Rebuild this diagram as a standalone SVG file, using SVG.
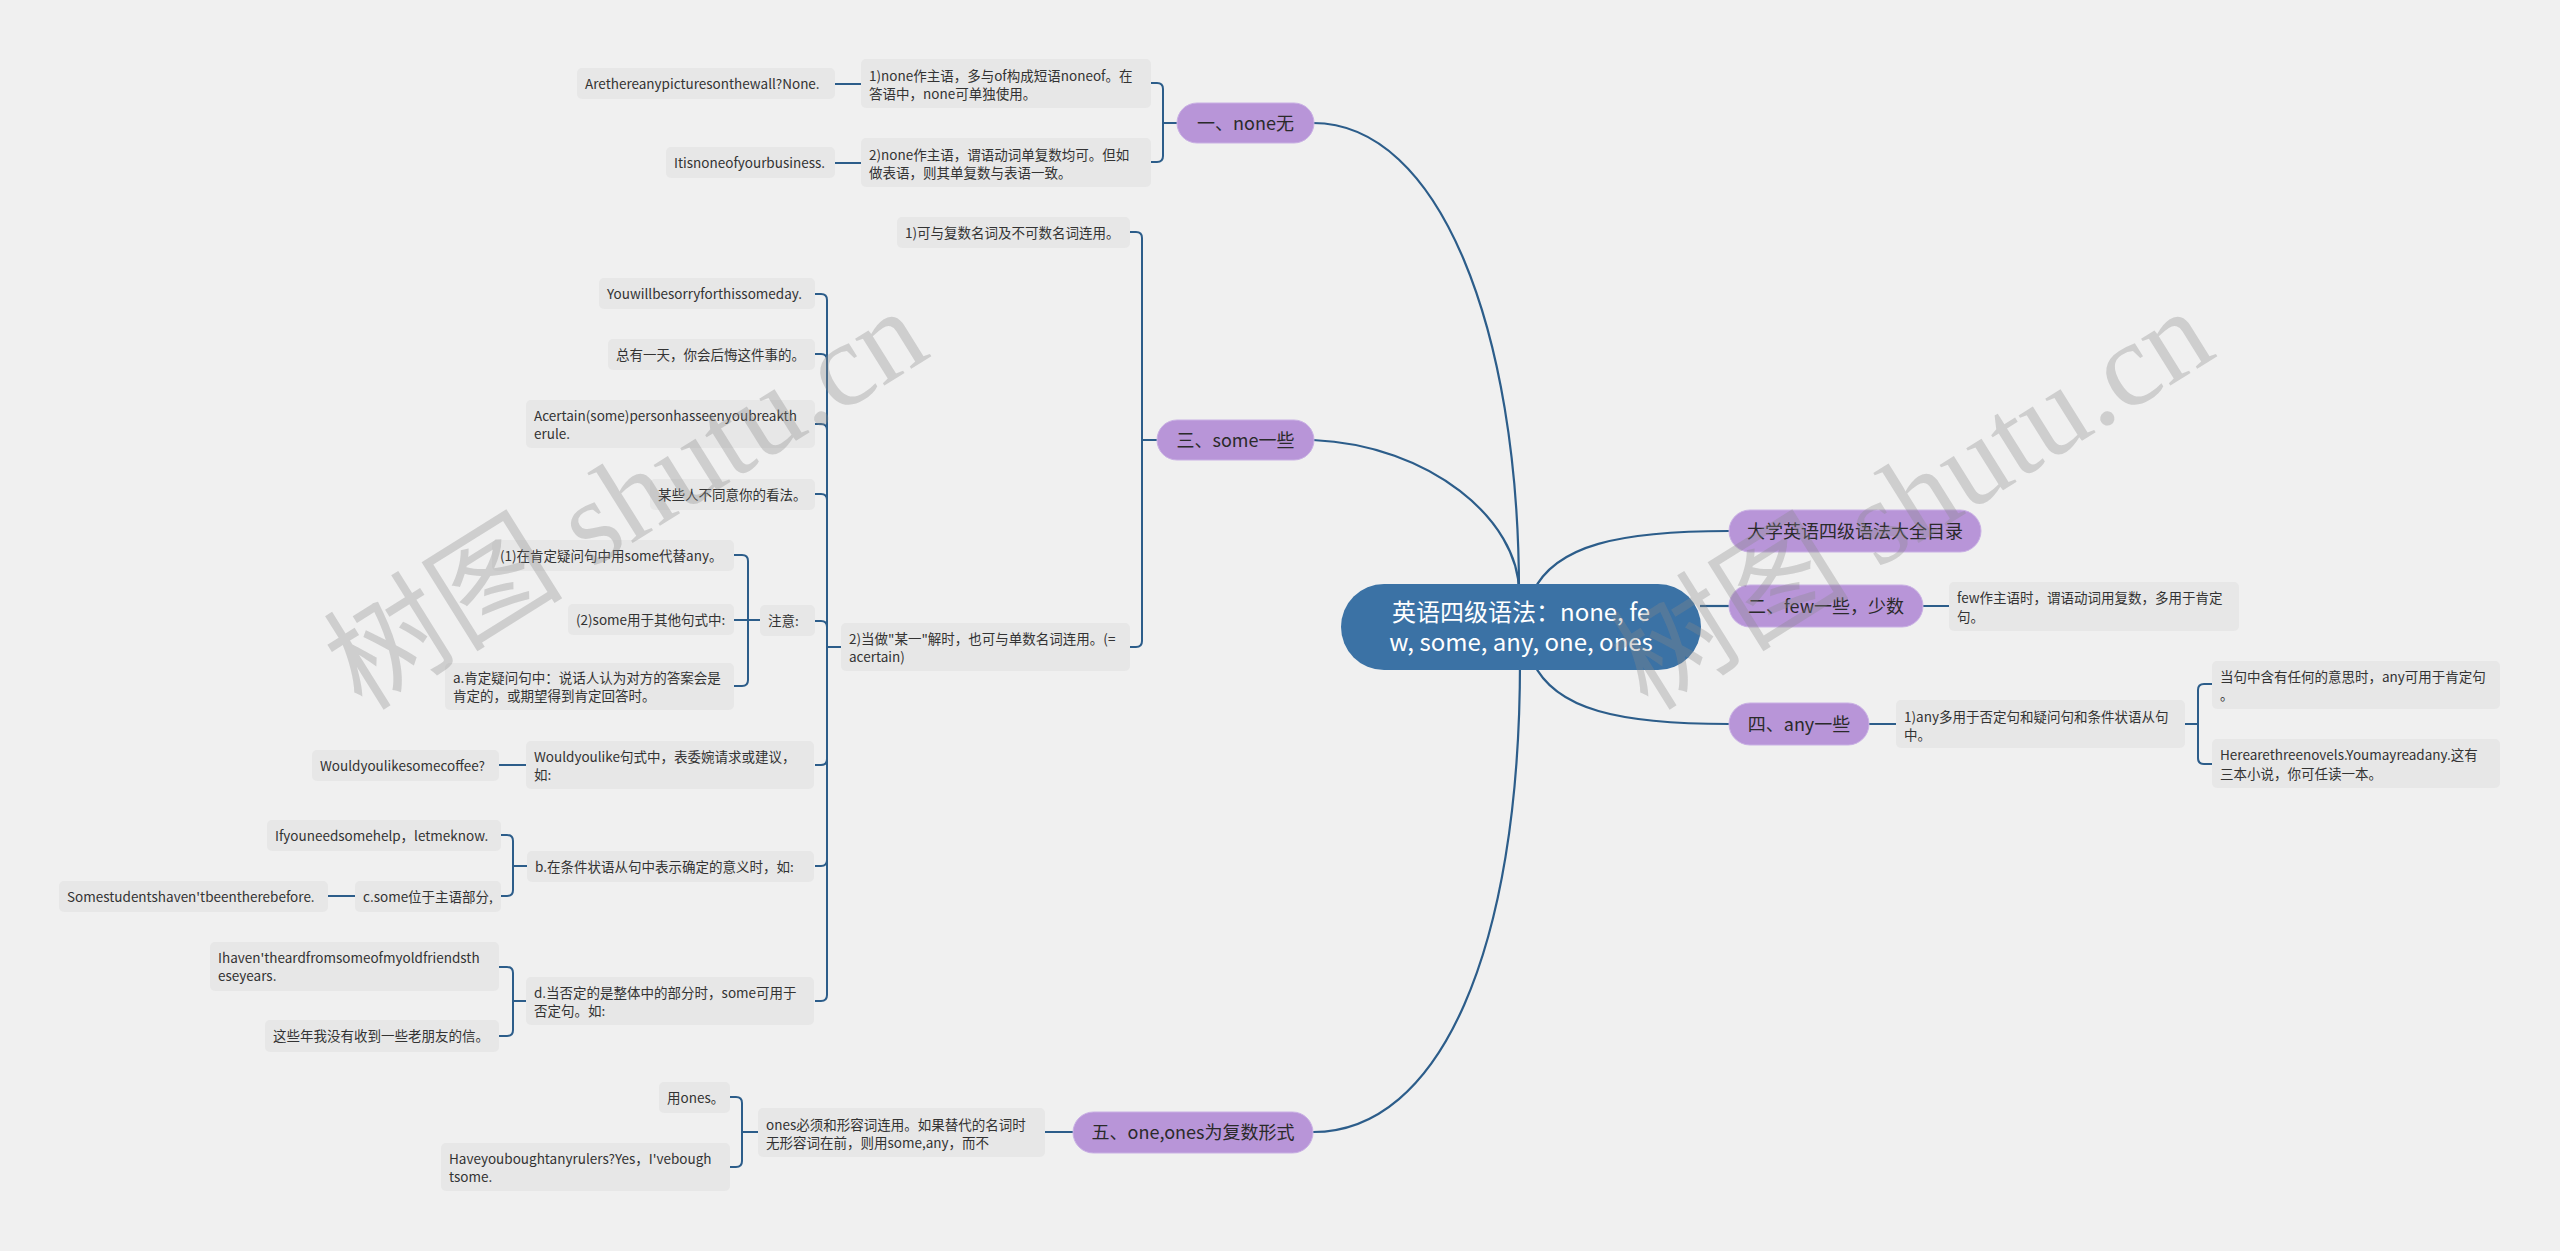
<svg xmlns="http://www.w3.org/2000/svg" width="2560" height="1251" viewBox="0 0 2560 1251">
<style>
text{font-family:"Noto Sans CJK SC","Noto Sans",sans-serif}
.box rect{fill:#e7e7e7}
.box text{font-size:13.5px;fill:#333}
.l1 rect{fill:#b895d8;stroke:#c9b0e4;stroke-width:1}
.l1 text{font-size:18px;fill:#2a2a2a;text-anchor:middle}
.root rect{fill:#3b72a5}
.root text{font-size:24px;fill:#fff;text-anchor:middle}
.c path{fill:none;stroke:#2c5d8a;stroke-width:2}
.c .m{stroke-width:2.2}
.wm{font-family:"Liberation Serif","Noto Sans CJK SC",serif;font-size:120px;fill:#8a8a8a;fill-opacity:0.33}
</style>
<rect width="2560" height="1251" fill="#f0f0f0"/>
<g class="c" id="connectors">
<path class="m" d="M1313 123 C1440 123 1519 330 1519 592"/>
<path class="m" d="M1313 440 C1430 445 1519 520 1519 592"/>
<path class="m" d="M1520 662 C1520 950 1440 1132 1313 1132"/>
<path class="m" d="M1533 592 C1555 545 1620 531 1729 531"/>
<path class="m" d="M1700 606 H1729"/>
<path class="m" d="M1533 662 C1555 710 1620 724 1729 724"/>
<path d="M1177 123 H1163 V89 Q1163 83 1157 83 H1151"/>
<path d="M1177 123 H1163 V156 Q1163 162 1157 162 H1151"/>
<path d="M835 84 H861"/>
<path d="M835 163 H861"/>
<path d="M1157 440 H1142 V238 Q1142 232 1136 232 H1130"/>
<path d="M1157 440 H1142 V641 Q1142 647 1136 647 H1130"/>
<path d="M841 647 H827 V300 Q827 294 821 294 H815"/>
<path d="M841 647 H827 V360 Q827 354 821 354 H815"/>
<path d="M841 647 H827 V430 Q827 424 821 424 H815"/>
<path d="M841 647 H827 V500 Q827 494 821 494 H815"/>
<path d="M841 647 H827 V627 Q827 621 821 621 H815"/>
<path d="M841 647 H827 V759 Q827 765 821 765 H815"/>
<path d="M841 647 H827 V860 Q827 866 821 866 H815"/>
<path d="M841 647 H827 V995 Q827 1001 821 1001 H815"/>
<path d="M760 620 H748 V561 Q748 555 742 555 H734"/>
<path d="M760 620 H734"/>
<path d="M760 620 H748 V680 Q748 686 742 686 H734"/>
<path d="M526 765 H499"/>
<path d="M527 866 H513 V841 Q513 835 507 835 H501"/>
<path d="M527 866 H513 V890 Q513 896 507 896 H501"/>
<path d="M355 896 H328"/>
<path d="M526 1001 H513 V973 Q513 967 507 967 H499"/>
<path d="M526 1001 H513 V1030 Q513 1036 507 1036 H499"/>
<path d="M758 1132 H742 V1103 Q742 1097 736 1097 H730"/>
<path d="M758 1132 H742 V1161 Q742 1167 736 1167 H730"/>
<path d="M1073 1132 H1045"/>
<path d="M1923 606 H1949"/>
<path d="M1869 724 H1896"/>
<path d="M2185 724 H2198 V690 Q2198 684 2204 684 H2212"/>
<path d="M2185 724 H2198 V758 Q2198 764 2204 764 H2212"/>
</g>
<g class="root" id="root"><rect x="1341" y="584" width="360" height="86" rx="43"/><text x="1521" y="621">英语四级语法：none, fe</text><text x="1521" y="651">w, some, any, one, ones</text></g>
<g class="l1" id="n1"><rect x="1177" y="103" width="137" height="40" rx="20"/><text x="1245.5" y="129.5">一、none无</text></g>
<g class="l1" id="n3"><rect x="1157" y="420" width="157" height="40" rx="20"/><text x="1235.5" y="446.5">三、some一些</text></g>
<g class="l1" id="n5"><rect x="1073" y="1112" width="240" height="41" rx="20.5"/><text x="1193" y="1138.5">五、one,ones为复数形式</text></g>
<g class="l1" id="n6"><rect x="1729" y="510" width="252" height="42" rx="21"/><text x="1855" y="537.5">大学英语四级语法大全目录</text></g>
<g class="l1" id="n2"><rect x="1729" y="585" width="194" height="42" rx="21"/><text x="1826" y="612.5">二、few一些，少数</text></g>
<g class="l1" id="n4"><rect x="1729" y="703" width="140" height="42" rx="21"/><text x="1799" y="730.5">四、any一些</text></g>
<g class="box" id="b1"><rect x="577" y="68" width="258" height="31" rx="5"/><text x="585" y="89">Arethereanypicturesonthewall?None.</text></g>
<g class="box" id="b2"><rect x="861" y="59" width="290" height="49" rx="5"/><text x="869" y="81">1)none作主语，多与of构成短语noneof。在</text><text x="869" y="99">答语中，none可单独使用。</text></g>
<g class="box" id="b3"><rect x="861" y="138" width="290" height="49" rx="5"/><text x="869" y="160">2)none作主语，谓语动词单复数均可。但如</text><text x="869" y="178">做表语，则其单复数与表语一致。</text></g>
<g class="box" id="b4"><rect x="666" y="147" width="169" height="31" rx="5"/><text x="674" y="168">Itisnoneofyourbusiness.</text></g>
<g class="box" id="b5"><rect x="897" y="217" width="233" height="31" rx="5"/><text x="905" y="238">1)可与复数名词及不可数名词连用。</text></g>
<g class="box" id="b6"><rect x="841" y="623" width="289" height="48" rx="5"/><text x="849" y="644">2)当做"某一"解时，也可与单数名词连用。(=</text><text x="849" y="662">acertain)</text></g>
<g class="box" id="b7"><rect x="599" y="278" width="216" height="31" rx="5"/><text x="607" y="299">Youwillbesorryforthissomeday.</text></g>
<g class="box" id="b8"><rect x="608" y="339" width="207" height="31" rx="5"/><text x="616" y="360">总有一天，你会后悔这件事的。</text></g>
<g class="box" id="b9"><rect x="526" y="400" width="289" height="48" rx="5"/><text x="534" y="421">Acertain(some)personhasseenyoubreakth</text><text x="534" y="439">erule.</text></g>
<g class="box" id="b10"><rect x="650" y="479" width="165" height="31" rx="5"/><text x="658" y="500">某些人不同意你的看法。</text></g>
<g class="box" id="b11"><rect x="760" y="605" width="55" height="31" rx="5"/><text x="768" y="626">注意:</text></g>
<g class="box" id="b12"><rect x="492" y="540" width="242" height="31" rx="5"/><text x="500" y="561">(1)在肯定疑问句中用some代替any。</text></g>
<g class="box" id="b13"><rect x="568" y="604" width="166" height="31" rx="5"/><text x="576" y="625">(2)some用于其他句式中:</text></g>
<g class="box" id="b14"><rect x="445" y="663" width="289" height="47" rx="5"/><text x="453" y="683">a.肯定疑问句中：说话人认为对方的答案会是</text><text x="453" y="701">肯定的，或期望得到肯定回答时。</text></g>
<g class="box" id="b15"><rect x="526" y="741" width="288" height="48" rx="5"/><text x="534" y="762">Wouldyoulike句式中，表委婉请求或建议，</text><text x="534" y="780">如:</text></g>
<g class="box" id="b16"><rect x="312" y="750" width="187" height="31" rx="5"/><text x="320" y="771">Wouldyoulikesomecoffee?</text></g>
<g class="box" id="b17"><rect x="527" y="851" width="287" height="31" rx="5"/><text x="535" y="872">b.在条件状语从句中表示确定的意义时，如:</text></g>
<g class="box" id="b18"><rect x="267" y="820" width="234" height="31" rx="5"/><text x="275" y="841">Ifyouneedsomehelp，letmeknow.</text></g>
<g class="box" id="b19"><rect x="355" y="881" width="146" height="31" rx="5"/><text x="363" y="902">c.some位于主语部分,</text></g>
<g class="box" id="b20"><rect x="59" y="881" width="269" height="31" rx="5"/><text x="67" y="902">Somestudentshaven'tbeentherebefore.</text></g>
<g class="box" id="b21"><rect x="526" y="977" width="288" height="48" rx="5"/><text x="534" y="998">d.当否定的是整体中的部分时，some可用于</text><text x="534" y="1016">否定句。如:</text></g>
<g class="box" id="b22"><rect x="210" y="942" width="289" height="49" rx="5"/><text x="218" y="963">Ihaven'theardfromsomeofmyoldfriendsth</text><text x="218" y="981">eseyears.</text></g>
<g class="box" id="b23"><rect x="265" y="1020" width="234" height="32" rx="5"/><text x="273" y="1041">这些年我没有收到一些老朋友的信。</text></g>
<g class="box" id="b24"><rect x="659" y="1082" width="71" height="31" rx="5"/><text x="667" y="1103">用ones。</text></g>
<g class="box" id="b25"><rect x="441" y="1143" width="289" height="48" rx="5"/><text x="449" y="1164">Haveyouboughtanyrulers?Yes，I'vebough</text><text x="449" y="1182">tsome.</text></g>
<g class="box" id="b26"><rect x="758" y="1108" width="287" height="49" rx="5"/><text x="766" y="1130">ones必须和形容词连用。如果替代的名词时</text><text x="766" y="1148">无形容词在前，则用some,any，而不</text></g>
<g class="box" id="b27"><rect x="1949" y="582" width="290" height="49" rx="5"/><text x="1957" y="603">few作主语时，谓语动词用复数，多用于肯定</text><text x="1957" y="622">句。</text></g>
<g class="box" id="b28"><rect x="1896" y="700" width="289" height="48" rx="5"/><text x="1904" y="722">1)any多用于否定句和疑问句和条件状语从句</text><text x="1904" y="740">中。</text></g>
<g class="box" id="b29"><rect x="2212" y="661" width="288" height="48" rx="5"/><text x="2220" y="682">当句中含有任何的意思时，any可用于肯定句</text><text x="2220" y="700">。</text></g>
<g class="box" id="b30"><rect x="2212" y="739" width="288" height="49" rx="5"/><text x="2220" y="760">Herearethreenovels.Youmayreadany.这有</text><text x="2220" y="779">三本小说，你可任读一本。</text></g>
<g id="watermark">
<text class="wm" transform="translate(362 712) rotate(-32)">树图 shutu.cn</text>
<text class="wm" transform="translate(1648 712) rotate(-32)">树图 shutu.cn</text>
</g>
</svg>
